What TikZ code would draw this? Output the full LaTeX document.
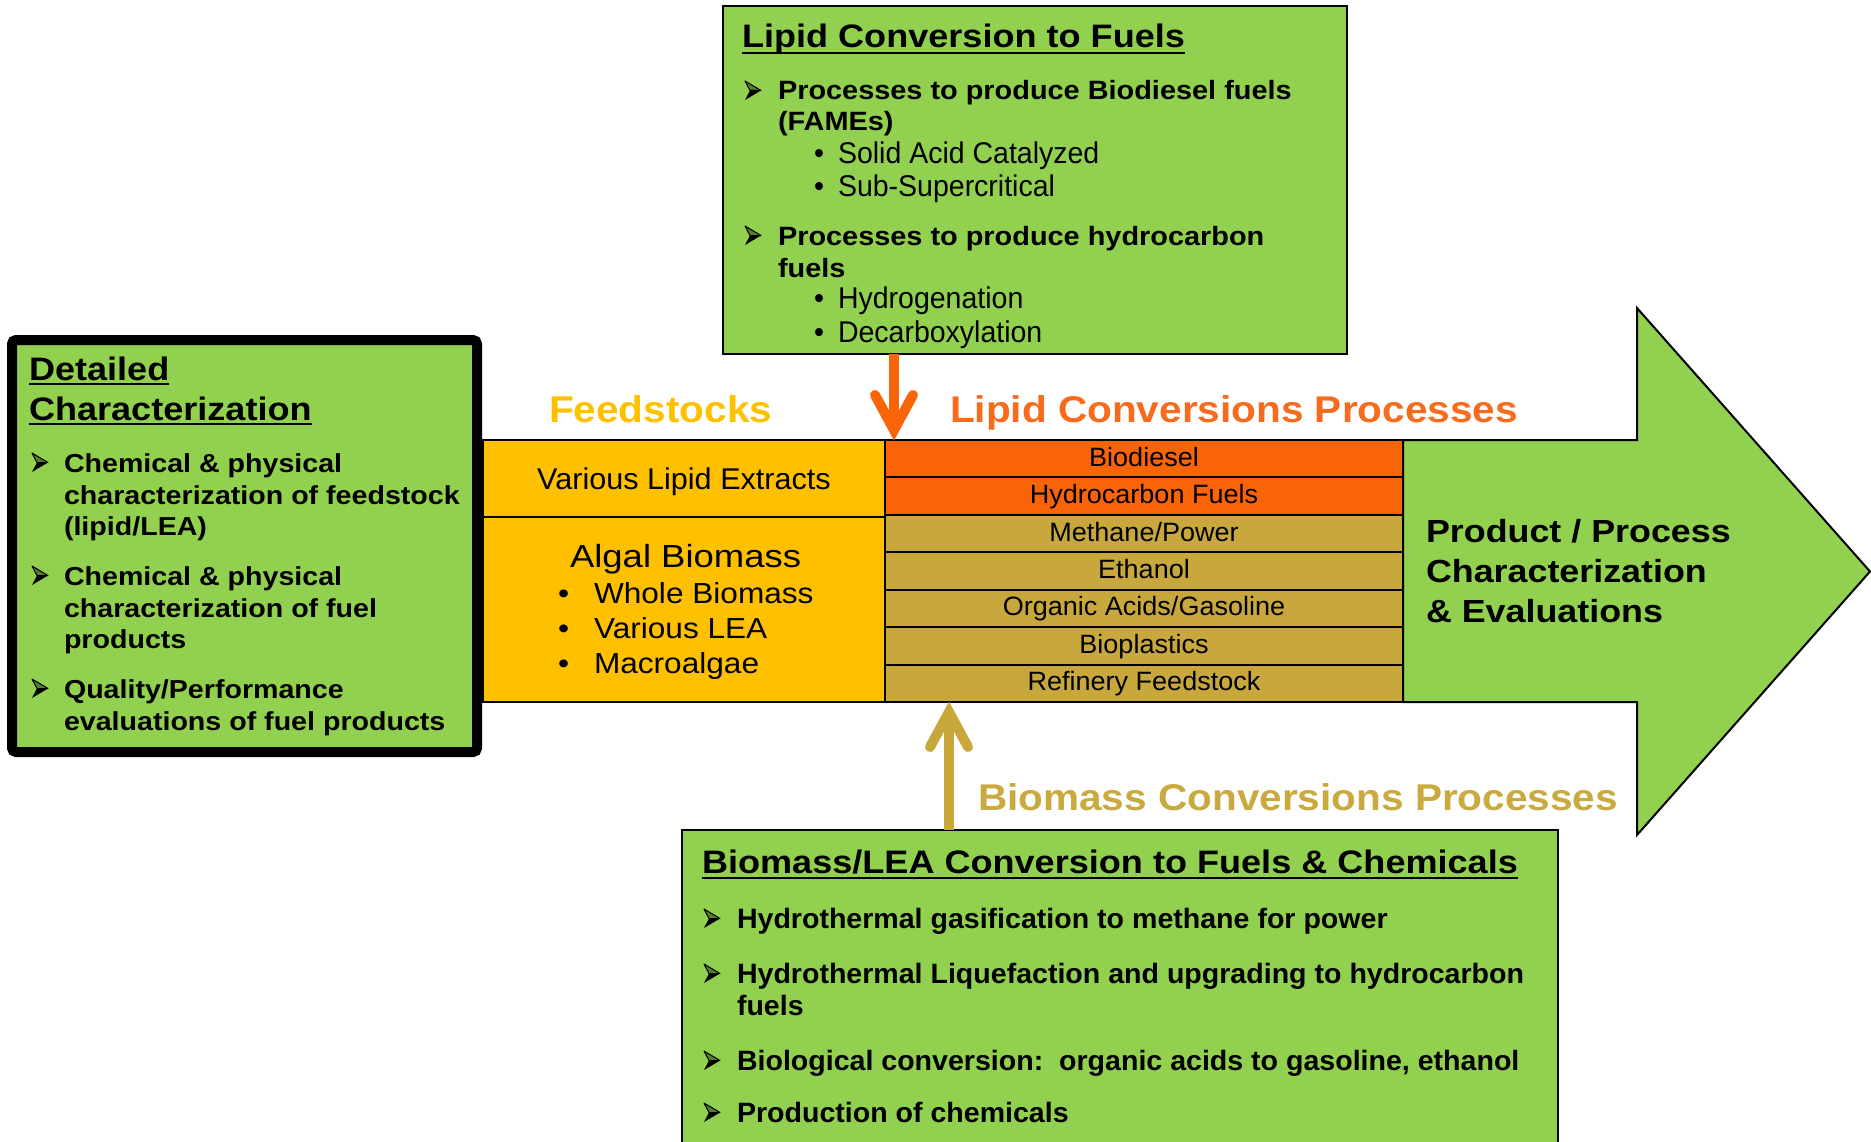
\documentclass[tikz,border=0pt]{standalone}
\usepackage{fontspec}
\setmainfont{Liberation Sans}
\usetikzlibrary{calc}
\definecolor{gfill}{RGB}{146,208,80}
\definecolor{yfill}{RGB}{255,192,0}
\definecolor{ofill}{RGB}{250,100,8}
\definecolor{bfill}{RGB}{200,168,60}
\definecolor{olabel}{RGB}{247,108,28}
\definecolor{glabel}{RGB}{201,170,62}
\definecolor{garrow}{RGB}{200,168,58}
\tikzset{
  txt/.style={inner sep=0pt, outer sep=0pt, anchor=base west},
  ttl/.style={txt, font=\fontsize{32.5}{36}\selectfont\bfseries\addfontfeature{FakeStretch=1.11}},
  bulT/.style={txt, font=\fontsize{26.5}{30}\selectfont\bfseries\addfontfeature{FakeStretch=1.09}},
  bulL/.style={txt, font=\fontsize{26}{30}\selectfont\bfseries\addfontfeature{FakeStretch=1.10}},
  bulB/.style={txt, font=\fontsize{28}{30}\selectfont\bfseries\addfontfeature{FakeStretch=1.02}},
  subb/.style={txt, font=\fontsize{30}{32}\selectfont\addfontfeature{FakeStretch=0.95}},
  lbl/.style={txt, font=\fontsize{37.2}{40}\selectfont\bfseries\addfontfeature{FakeStretch=1.09}},
  prod/.style={txt, font=\fontsize{32}{36}\selectfont\bfseries\addfontfeature{FakeStretch=1.12}},
  algt/.style={txt, font=\fontsize{32}{36}\selectfont\addfontfeature{FakeStretch=1.14}},
  algb/.style={txt, font=\fontsize{29}{32}\selectfont\addfontfeature{FakeStretch=1.09}},
  cell/.style={draw=black, line width=2pt, inner sep=0pt, outer sep=0pt},
  rowcell/.style={cell, minimum width=518pt, minimum height=37.43pt, text height=17pt, text depth=2pt,
    font=\fontsize{26.5}{30}\selectfont\addfontfeature{FakeStretch=1.02}},
  greenbox/.style={draw=black, line width=2.5pt, fill=gfill, inner sep=0pt, outer sep=0pt},
  ulln/.style={line width=2.2pt, black},
  oarr/.style={draw=ofill, line width=10pt},
  garr/.style={draw=garrow, line width=10pt},
  bularrow/.pic={
    \fill[black] (5,-9.5) -- (16,-9.5) -- (0,0) -- cycle;
    \filldraw[draw=black, line width=1pt, fill=black!40!gfill, line join=round] (0,-19) -- (16,-9.5) -- (5,-9.5) -- cycle;
  }
}
\begin{document}
\begin{tikzpicture}[x=1pt,y=-1pt]
\useasboundingbox (0,0) rectangle (1871,1142);
\clip (0,0) rectangle (1871,1142);
\fill[white] (0,0) rectangle (1871,1142);

% ---------- big green arrow ----------
\draw[draw=black, line width=2pt, fill=gfill, line join=miter]
  (1403,440) -- (1637,440) -- (1637,308) -- (1870,571.5) -- (1637,835) -- (1637,702) -- (1403,702) -- cycle;
\node[prod] (pp1) at (1426,542) {Product / Process};
\node[prod] (pp2) at (1426,582) {Characterization};
\node[prod] (pp3) at (1426,622) {\& Evaluations};

% ---------- feedstock table ----------
\node[cell, fill=yfill, minimum width=402pt, minimum height=77pt, text height=21.5pt, text depth=0pt,
  font=\fontsize{30}{32}\selectfont\addfontfeature{FakeStretch=1.02}] (fs1) at (684,478.5) {Various Lipid Extracts};
\node[cell, fill=yfill, minimum width=402pt, minimum height=185pt] (fs2) at (684,609.5) {};
\node[algt] (ag) at (570,567) {Algal Biomass};
\node[algb] (agd1) at (558,603) {•};
\node[algb] (ag1) at (594,603) {Whole Biomass};
\node[algb] (agd2) at (558,638) {•};
\node[algb] (ag2) at (594,638) {Various LEA};
\node[algb] (agd3) at (558,673) {•};
\node[algb] (ag3) at (594,673) {Macroalgae};

% ---------- lipid / biomass conversion rows ----------
\node[rowcell, fill=ofill] (r1) at (1144,458.7) {Biodiesel};
\node[rowcell, fill=ofill] (r2) at (1144,496.1) {Hydrocarbon Fuels};
\node[rowcell, fill=bfill] (r3) at (1144,533.6) {Methane/Power};
\node[rowcell, fill=bfill] (r4) at (1144,571.0) {Ethanol};
\node[rowcell, fill=bfill] (r5) at (1144,608.4) {Organic Acids/Gasoline};
\node[rowcell, fill=bfill] (r6) at (1144,645.9) {Bioplastics};
\node[rowcell, fill=bfill] (r7) at (1144,683.3) {Refinery Feedstock};

% ---------- labels ----------
\node[lbl, text=yfill] (lfeed) at (549,422) {Feedstocks};
\node[lbl, text=olabel] (llip) at (950,422) {Lipid Conversions Processes};
\node[lbl, text=glabel] (lbio) at (978,810) {Biomass Conversions Processes};

% ---------- left box ----------
\node[greenbox, line width=10pt, rounded corners=4pt, minimum width=465pt, minimum height=412pt] (detail) at (244.5,546) {};
\node[ttl] (dt1) at (29,380) {Detailed};
\node[ttl] (dt2) at (29,420) {Characterization};
\draw[ulln] ($(dt1.base west)+(0,4)$) -- ($(dt1.base east)+(0,4)$);
\draw[ulln] ($(dt2.base west)+(0,4)$) -- ($(dt2.base east)+(0,4)$);
\pic at (32,472) {bularrow};
\node[bulL] (dl1) at (64,472) {Chemical \& physical};
\node[bulL] (dl2) at (64,504) {characterization of feedstock};
\node[bulL] (dl3) at (64,535) {(lipid/LEA)};
\pic at (32,585) {bularrow};
\node[bulL] (dl4) at (64,585) {Chemical \& physical};
\node[bulL] (dl5) at (64,617) {characterization of fuel};
\node[bulL] (dl6) at (64,648) {products};
\pic at (32,698) {bularrow};
\node[bulL] (dl7) at (64,698) {Quality/Performance};
\node[bulL] (dl8) at (64,730) {evaluations of fuel products};

% ---------- top box ----------
\node[greenbox, minimum width=624pt, minimum height=348pt] (lipidbox) at (1035,180) {};
\node[ttl] (lt) at (742,48) {Lipid Conversion to Fuels};
\draw[ulln] ($(lt.base west)+(0,5)$) -- ($(lt.base east)+(0,5)$);
\pic at (745,100) {bularrow};
\node[bulT] (lt1) at (778,100) {Processes to produce Biodiesel fuels};
\node[bulT] (lt2) at (778,131) {(FAMEs)};
\node[subb] (ls1d) at (814,164) {•};
\node[subb] (ls1) at (838,164) {Solid Acid Catalyzed};
\node[subb] (ls2d) at (814,197) {•};
\node[subb] (ls2) at (838,197) {Sub-Supercritical};
\pic at (745,245) {bularrow};
\node[bulT] (lt3) at (778,245) {Processes to produce hydrocarbon};
\node[bulT] (lt4) at (778,277) {fuels};
\node[subb] (ls3d) at (814,308) {•};
\node[subb] (ls3) at (838,308) {Hydrogenation};
\node[subb] (ls4d) at (814,342) {•};
\node[subb] (ls4) at (838,342) {Decarboxylation};

% ---------- bottom box ----------
\node[greenbox, minimum width=876pt, minimum height=330pt] (biobox) at (1120,995) {};
\node[ttl] (bt) at (702,873) {Biomass/LEA Conversion to Fuels \& Chemicals};
\draw[ulln] ($(bt.base west)+(0,5)$) -- ($(bt.base east)+(0,5)$);
\pic at (704,928) {bularrow};
\node[bulB] (bb1) at (737,928) {Hydrothermal gasification to methane for power};
\pic at (704,983) {bularrow};
\node[bulB] (bb2) at (737,983) {Hydrothermal Liquefaction and upgrading to hydrocarbon};
\node[bulB] (bb3) at (737,1015) {fuels};
\pic at (704,1070) {bularrow};
\node[bulB] (bb4) at (737,1070) {Biological conversion:\ \ organic acids to gasoline, ethanol};
\pic at (704,1122) {bularrow};
\node[bulB] (bb5) at (737,1122) {Production of chemicals};

% ---------- connectors ----------
\coordinate (oatip) at (894,430);
\draw[oarr] (lipidbox.south -| oatip) -- (oatip);
\draw[oarr, line cap=round, line join=miter] ($(oatip)+(-19,-35)$) -- (oatip) -- ($(oatip)+(19,-35)$);
\coordinate (gatip) at (949,712);
\draw[garr] (biobox.north -| gatip) -- (gatip);
\draw[garr, line cap=round, line join=miter] ($(gatip)+(-19,35)$) -- (gatip) -- ($(gatip)+(19,35)$);
\end{tikzpicture}
\end{document}
